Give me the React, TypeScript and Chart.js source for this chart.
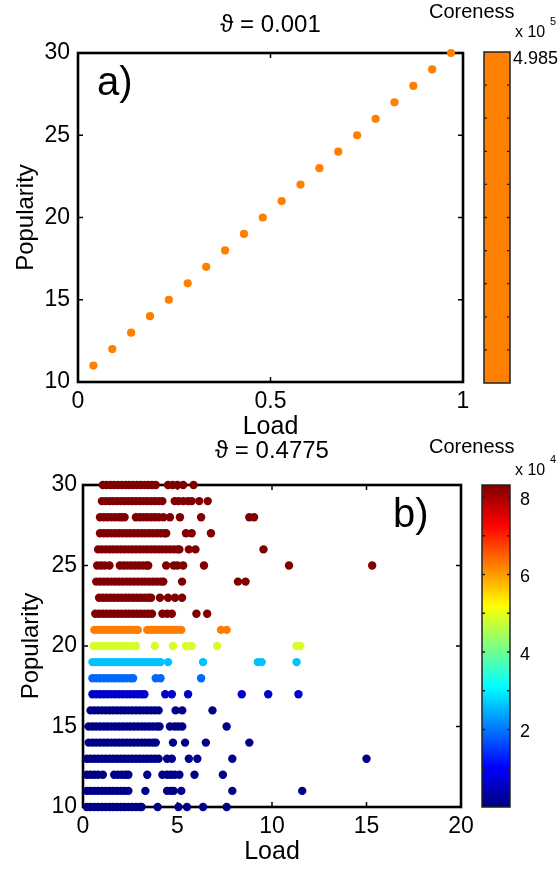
import React, { useEffect, useRef } from "react";
import { Chart, registerables } from "chart.js";

Chart.register(...registerables);

const FONT = "'Liberation Sans', Arial, Helvetica, sans-serif";

// ---------- Panel a ----------
const titleA = "ϑ = 0.001";
const popularityA = [11, 12, 13, 14, 15, 16, 17, 18, 19, 20, 21, 22, 23, 24, 25, 26, 27, 28, 29, 30];
const loadA = [0.04, 0.089, 0.138, 0.187, 0.236, 0.285, 0.333, 0.382, 0.431, 0.48, 0.529, 0.578, 0.627, 0.676, 0.725, 0.773, 0.822, 0.871, 0.92, 0.969];
const colorA = "rgb(255,128,0)";
const cbLabelA = "4.985";
const cbExpA = "5";

// ---------- Panel b ----------
const titleB = "ϑ = 0.4775";
const popularityB = [10, 11, 12, 13, 14, 15, 16, 17, 18, 19, 20, 21, 22, 23, 24, 25, 26, 27, 28, 29, 30];
// coreness per popularity level (x 10^4)
const corenessB = [0.06, 0.06, 0.06, 0.06, 0.06, 0.06, 0.06, 0.63, 1.88, 2.6, 4.86, 6.25, 8.31, 8.31, 8.31, 8.31, 8.31, 8.31, 8.31, 8.31, 8.31];
const cbMinB = 0;
const cbMaxB = 8.31;
const cbTicksB = [1, 2, 3, 4, 5, 6, 7, 8];
const cbLabelsB = [2, 4, 6, 8];
const cbExpB = "4";
const loadsB = [
  [0.2, 0.4, 0.6, 0.8, 1.0, 1.2, 1.4, 1.6, 1.8, 2.0, 2.2, 2.4, 2.6, 2.8, 3.0, 3.1, 3.95, 5.05, 5.5, 6.35, 7.6],
  [0.2, 0.4, 0.6, 0.8, 1.0, 1.2, 1.4, 1.6, 1.8, 2.0, 2.2, 2.4, 3.3, 4.45, 4.65, 4.8, 5.2, 7.9, 11.6],
  [0.2, 0.4, 0.6, 0.8, 1.05, 1.65, 1.85, 2.05, 2.25, 2.4, 3.4, 4.2, 4.45, 4.65, 4.85, 5.1, 5.9, 7.4],
  [0.2, 0.4, 0.6, 0.8, 1.0, 1.2, 1.4, 1.6, 1.8, 2.0, 2.2, 2.4, 2.6, 2.8, 3.0, 3.2, 3.4, 3.6, 3.8, 4.0, 4.45, 4.7, 5.6, 6.05, 7.9, 15.0],
  [0.3, 0.5, 0.7, 0.9, 1.1, 1.3, 1.5, 1.7, 1.9, 2.1, 2.3, 2.5, 2.7, 2.9, 3.1, 3.3, 3.5, 3.7, 3.85, 4.76, 5.4, 6.5, 8.8],
  [0.3, 0.5, 0.7, 0.9, 1.1, 1.3, 1.5, 1.7, 1.9, 2.1, 2.3, 2.5, 2.7, 2.9, 3.1, 3.3, 3.5, 3.7, 3.9, 4.05, 4.6, 4.85, 5.05, 5.25, 7.6],
  [0.4, 0.6, 0.8, 1.0, 1.2, 1.4, 1.6, 1.8, 2.0, 2.2, 2.4, 2.6, 2.8, 3.0, 3.2, 3.4, 3.6, 3.8, 4.0, 4.9, 5.25, 6.85],
  [0.5, 0.7, 0.9, 1.1, 1.3, 1.5, 1.7, 1.9, 2.1, 2.3, 2.5, 2.7, 2.9, 3.1, 3.25, 4.35, 4.7, 5.56, 8.4, 9.8, 11.4],
  [0.5, 0.7, 0.9, 1.1, 1.3, 1.5, 1.7, 1.9, 2.1, 2.3, 2.5, 2.65, 3.85, 4.1, 6.25],
  [0.5, 0.7, 0.9, 1.1, 1.3, 1.5, 1.7, 1.9, 2.1, 2.3, 2.5, 2.7, 2.9, 3.1, 3.3, 3.5, 3.7, 3.9, 4.1, 4.5, 6.35, 9.25, 9.45, 11.3],
  [0.55, 0.75, 0.95, 1.15, 1.35, 1.55, 1.75, 1.95, 2.15, 2.35, 2.55, 2.8, 3.8, 4.76, 5.45, 5.75, 7.1, 11.3, 11.5],
  [0.6, 0.8, 1.0, 1.2, 1.4, 1.6, 1.8, 2.0, 2.2, 2.4, 2.6, 2.8, 2.9, 3.4, 3.6, 3.8, 4.0, 4.2, 4.4, 4.6, 4.8, 5.0, 5.2, 7.3, 7.6],
  [0.65, 0.85, 1.05, 1.25, 1.45, 1.65, 1.85, 2.05, 2.25, 2.45, 2.65, 2.85, 3.05, 3.25, 3.45, 3.65, 4.2, 4.45, 4.7, 6.0, 6.57],
  [0.85, 1.05, 1.25, 1.45, 1.65, 1.85, 2.05, 2.25, 2.45, 2.65, 2.85, 3.05, 3.25, 3.45, 3.6, 4.07, 4.5, 4.87, 5.24],
  [0.7, 0.9, 1.1, 1.3, 1.5, 1.7, 1.9, 2.1, 2.3, 2.5, 2.7, 2.9, 3.1, 3.3, 3.5, 3.7, 3.9, 4.1, 4.25, 5.24, 8.2, 8.6],
  [0.75, 0.95, 1.15, 1.4, 1.95, 2.15, 2.35, 2.55, 2.75, 2.95, 3.15, 3.35, 3.45, 4.4, 4.8, 5.0, 5.3, 6.4, 10.9, 15.3],
  [0.8, 1.0, 1.2, 1.4, 1.6, 1.8, 2.0, 2.2, 2.4, 2.6, 2.8, 3.0, 3.2, 3.4, 3.6, 3.8, 4.0, 4.2, 4.4, 4.6, 4.8, 5.0, 5.1, 5.6, 5.95, 9.55],
  [0.9, 1.1, 1.3, 1.5, 1.7, 1.9, 2.1, 2.3, 2.5, 2.7, 2.9, 3.1, 3.3, 3.5, 3.7, 3.9, 4.1, 4.3, 4.4, 5.45, 5.75, 6.77],
  [0.9, 1.1, 1.3, 1.5, 1.7, 1.9, 2.05, 2.2, 2.8, 3.0, 3.2, 3.4, 3.6, 3.8, 4.0, 4.25, 4.6, 5.13, 6.25, 8.8, 9.05],
  [1.0, 1.2, 1.4, 1.6, 1.8, 2.0, 2.2, 2.4, 2.6, 2.8, 3.0, 3.2, 3.4, 3.6, 3.8, 4.0, 4.2, 4.85, 5.05, 5.3, 5.55, 5.75, 6.15, 6.6],
  [1.05, 1.25, 1.45, 1.65, 1.85, 2.05, 2.25, 2.45, 2.65, 2.85, 3.05, 3.25, 3.45, 3.65, 3.85, 4.5, 4.75, 5.0, 5.3, 5.85],
];

function jet(t: number): string {
  const c = (v: number) => Math.round(255 * Math.max(0, Math.min(1, v)));
  return `rgb(${c(1.5 - Math.abs(4 * t - 3))},${c(1.5 - Math.abs(4 * t - 2))},${c(1.5 - Math.abs(4 * t - 1))})`;
}

function makeOverlay(cfg: any) {
  return {
    id: "overlay_" + cfg.key,
    beforeDatasetsDraw(chart: any) {
      const { ctx, chartArea: a, scales } = chart;
      ctx.save();
      ctx.strokeStyle = "#000";
      ctx.lineWidth = 1.5;
      const tl = 5;
      ctx.beginPath();
      scales.x.ticks.forEach((t: any) => {
        const px = scales.x.getPixelForValue(t.value);
        ctx.moveTo(px, a.bottom);
        ctx.lineTo(px, a.bottom - tl);
        ctx.moveTo(px, a.top);
        ctx.lineTo(px, a.top + tl);
      });
      scales.y.ticks.forEach((t: any) => {
        const py = scales.y.getPixelForValue(t.value);
        ctx.moveTo(a.left, py);
        ctx.lineTo(a.left + tl, py);
        ctx.moveTo(a.right, py);
        ctx.lineTo(a.right - tl, py);
      });
      ctx.stroke();
      ctx.lineWidth = 2.6;
      ctx.strokeRect(a.left, a.top, a.right - a.left, a.bottom - a.top);
      ctx.restore();
    },
    afterDraw(chart: any) {
      const { ctx, chartArea: a } = chart;
      ctx.save();
      ctx.fillStyle = "#000";
      // title
      ctx.font = `24px ${FONT}`;
      ctx.textAlign = "center";
      ctx.textBaseline = "alphabetic";
      ctx.fillText(cfg.title, (a.left + a.right) / 2, cfg.titleY);
      // panel letter
      ctx.font = `40px ${FONT}`;
      ctx.textAlign = "left";
      ctx.fillText(cfg.letter, cfg.letterX, cfg.letterY);
      // colorbar
      const cb = cfg.cb;
      if (cb.jet) {
        const g = ctx.createLinearGradient(0, cb.y + cb.h, 0, cb.y);
        for (let i = 0; i <= 64; i++) g.addColorStop(i / 64, jet(i / 64));
        ctx.fillStyle = g;
      } else {
        ctx.fillStyle = cb.fill;
      }
      ctx.fillRect(cb.x, cb.y, cb.w, cb.h);
      ctx.strokeStyle = "#222";
      ctx.lineWidth = 1.3;
      ctx.beginPath();
      cb.ticks.forEach((v: number) => {
        const py = cb.y + cb.h - ((v - cb.min) / (cb.max - cb.min)) * cb.h;
        ctx.moveTo(cb.x, py);
        ctx.lineTo(cb.x + 3, py);
        ctx.moveTo(cb.x + cb.w, py);
        ctx.lineTo(cb.x + cb.w - 3, py);
      });
      ctx.stroke();
      ctx.lineWidth = 1.5;
      ctx.strokeRect(cb.x, cb.y, cb.w, cb.h);
      ctx.fillStyle = "#000";
      ctx.font = `18px ${FONT}`;
      ctx.textAlign = "left";
      ctx.textBaseline = "middle";
      cb.labels.forEach((l: any) => {
        const py = cb.y + cb.h - ((l.v - cb.min) / (cb.max - cb.min)) * cb.h;
        ctx.fillText(l.text, cb.labelX, py + cb.labelDy);
      });
      ctx.textBaseline = "alphabetic";
      ctx.font = `20px ${FONT}`;
      ctx.fillText("Coreness", 429, cfg.coreY);
      ctx.font = `16px ${FONT}`;
      ctx.fillText("x 10", 515, cfg.expY);
      ctx.font = `11px ${FONT}`;
      ctx.fillText(cfg.exp, 550, cfg.expY - 12);
      ctx.restore();
    },
  };
}

function axes(opts: any) {
  return {
    x: {
      type: "linear",
      min: opts.xMin,
      max: opts.xMax,
      ticks: {
        stepSize: opts.xStep,
        padding: 6,
        font: { size: 23 },
        color: "#000",
        autoSkip: false,
        maxRotation: 0,
        callback: (v: any) => String(Number(v)),
      },
      grid: { display: false, drawTicks: false },
      border: { display: false },
      title: { display: true, text: "Load", font: { size: 25 }, color: "#000", padding: { top: 0, bottom: opts.xTitlePad } },
      afterFit: (s: any) => {
        s.height = opts.xHeight;
      },
    },
    y: {
      type: "linear",
      min: 10,
      max: 30,
      ticks: { stepSize: 5, padding: opts.yTickPad, font: { size: 23 }, color: "#000", autoSkip: false },
      grid: { display: false, drawTicks: false },
      border: { display: false },
      title: { display: true, text: "Popularity", font: { size: 24 }, color: "#000", padding: { top: opts.yTitlePad, bottom: 0 } },
      afterFit: (s: any) => {
        s.width = opts.yWidth;
      },
    },
  };
}

export default function App() {
  const refA = useRef<HTMLCanvasElement>(null);
  const refB = useRef<HTMLCanvasElement>(null);

  useEffect(() => {
    Chart.defaults.font.family = FONT;
    Chart.defaults.color = "#000";

    const chartA = new Chart(refA.current as HTMLCanvasElement, {
      type: "scatter",
      data: {
        datasets: [
          {
            data: loadA.map((x, i) => ({ x, y: popularityA[i] })),
            pointRadius: 4.1,
            pointBorderWidth: 0,
            pointBackgroundColor: colorA,
            pointBorderColor: colorA,
            clip: false,
          } as any,
        ],
      },
      options: {
        animation: false,
        responsive: false,
        maintainAspectRatio: false,
        layout: { padding: { top: 53, right: 97, bottom: 0, left: 0 } },
        plugins: { legend: { display: false }, tooltip: { enabled: false } },
        scales: axes({ xMin: 0, xMax: 1, xStep: 0.5, xHeight: 63, xTitlePad: 2.5, yWidth: 78, yTickPad: 8, yTitlePad: 11.6 }) as any,
      },
      plugins: [
        makeOverlay({
          key: "a",
          title: titleA,
          titleY: 32,
          letter: "a)",
          letterX: 97,
          letterY: 95,
          coreY: 18,
          expY: 37,
          exp: cbExpA,
          cb: {
            x: 484, y: 52, w: 26, h: 331, min: 0, max: 10, fill: colorA,
            ticks: [1, 2, 3, 4, 5, 6, 7, 8, 9],
            labels: [{ v: 10, text: cbLabelA }],
            labelX: 513, labelDy: 7,
          },
        }),
      ],
    });

    const chartB = new Chart(refB.current as HTMLCanvasElement, {
      type: "scatter",
      data: {
        datasets: popularityB.map((p, i) => {
          const col = jet((corenessB[i] - cbMinB) / (cbMaxB - cbMinB));
          return {
            data: loadsB[i].map((x) => ({ x, y: p })),
            pointRadius: 4.2,
            pointBorderWidth: 0,
            pointBackgroundColor: col,
            pointBorderColor: col,
            clip: false,
          } as any;
        }),
      },
      options: {
        animation: false,
        responsive: false,
        maintainAspectRatio: false,
        layout: { padding: { top: 60, right: 99, bottom: 0, left: 0 } },
        plugins: { legend: { display: false }, tooltip: { enabled: false } },
        scales: axes({ xMin: 0, xMax: 20, xStep: 5, xHeight: 64, xTitlePad: 4, yWidth: 83, yTickPad: 6, yTitlePad: 16.6 }) as any,
      },
      plugins: [
        makeOverlay({
          key: "b",
          title: titleB,
          titleY: 33,
          letter: "b)",
          letterX: 393,
          letterY: 102,
          coreY: 28,
          expY: 50,
          exp: cbExpB,
          cb: {
            x: 482, y: 60, w: 28, h: 322, min: cbMinB, max: cbMaxB, jet: true,
            ticks: cbTicksB,
            labels: cbLabelsB.map((v) => ({ v, text: String(v) })),
            labelX: 520, labelDy: 3,
          },
        }),
      ],
    });

    return () => {
      chartA.destroy();
      chartB.destroy();
    };
  }, []);

  return (
    <div style={{ position: "absolute", left: 0, top: 0, width: 560, height: 871, background: "#fff" }}>
      <canvas ref={refA} width={560} height={445} style={{ position: "absolute", left: 0, top: 0, width: 560, height: 445 }} />
      <canvas ref={refB} width={560} height={446} style={{ position: "absolute", left: 0, top: 425, width: 560, height: 446 }} />
    </div>
  );
}
